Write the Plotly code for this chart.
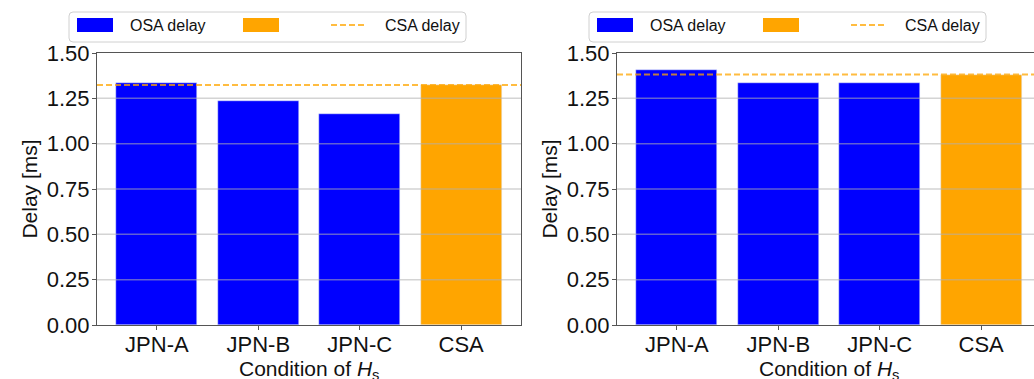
import plotly.graph_objects as go

# ---- data ----
categories = ["JPN-A", "JPN-B", "JPN-C", "CSA"]
delay_left = [1.333, 1.235, 1.162, 1.324]
delay_right = [1.406, 1.336, 1.336, 1.381]
csa_left = delay_left[3]
csa_right = delay_right[3]
y_ticks = [0.0, 0.25, 0.5, 0.75, 1.0, 1.25, 1.5]
y_tick_text = ["0.00", "0.25", "0.50", "0.75", "1.00", "1.25", "1.50"]
legend_labels = ["OSA delay", "", "CSA delay"]
x_title = "Condition of <i>H</i><sub>s</sub>"
y_title = "Delay [ms]"

# ---- style ----
W, H = 1034, 379
BLUE = "#0000ff"
ORANGE = "#ffa500"
FONT = "Liberation Sans"
AXCOL = "#555555"
bar_colors = [BLUE, BLUE, BLUE, ORANGE]


def px(x):
    return x / W


def py(y):
    return 1 - y / H


fig = go.Figure()

fig.add_trace(go.Bar(x=categories, y=delay_left, marker_color=bar_colors,
                     width=0.8, xaxis="x", yaxis="y", showlegend=False))
fig.add_trace(go.Bar(x=categories, y=delay_right, marker_color=bar_colors,
                     width=0.8, xaxis="x2", yaxis="y2", showlegend=False))

plot_top, plot_bot = 53, 325
left_x0, left_x1 = 97, 521
right_x0 = 617
left_range = [-0.59, 3.59]
span = left_range[1] - left_range[0]
right_range = [-0.59, -0.59 + span * (W - right_x0) / (left_x1 - left_x0)]

axis_common = dict(
    showline=True, linecolor=AXCOL, linewidth=1.2,
    ticks="outside", ticklen=4, tickwidth=1, tickcolor=AXCOL,
    tickfont=dict(family=FONT, size=22, color="#111"),
    showgrid=False, zeroline=False, automargin=False,
)
xaxis_extra = dict(ticklabelstandoff=-5)
yaxis_extra = dict(ticklabelstandoff=-2)

ydom = [py(plot_bot), py(plot_top)]
ytitle = dict(text=y_title, font=dict(family=FONT, size=21, color="#111"), standoff=3)

fig.update_layout(
    width=W, height=H,
    margin=dict(l=0, r=0, t=0, b=0, autoexpand=False),
    paper_bgcolor="white", plot_bgcolor="white",
    bargap=0,
    xaxis=dict(domain=[px(left_x0), px(left_x1)], range=left_range, mirror=True,
               anchor="y", **axis_common, **xaxis_extra),
    yaxis=dict(domain=ydom, range=[0, 1.5], tickvals=y_ticks, ticktext=y_tick_text,
               mirror=True, anchor="x", title=ytitle, **axis_common, **yaxis_extra),
    xaxis2=dict(domain=[px(right_x0), 1.0], range=right_range, mirror=True,
                anchor="y2", **axis_common, **xaxis_extra),
    yaxis2=dict(domain=ydom, range=[0, 1.5], tickvals=y_ticks, ticktext=y_tick_text,
                mirror=False, anchor="x2", title=ytitle, **axis_common, **yaxis_extra),
)

shapes = []
annotations = []

# horizontal grid lines drawn over the bars
for xr, yr in (("x domain", "y"), ("x2 domain", "y2")):
    for t in y_ticks[1:-1]:
        shapes.append(dict(type="line", xref=xr, yref=yr, x0=0, x1=1, y0=t, y1=t,
                           line=dict(color="rgba(176,176,176,0.55)", width=1.5),
                           layer="above"))

# CSA reference lines
for xr, yr, val in (("x domain", "y", csa_left), ("x2 domain", "y2", csa_right)):
    shapes.append(dict(type="line", xref=xr, yref=yr, x0=0, x1=1, y0=val, y1=val,
                       line=dict(color="rgba(255,165,0,0.75)", width=2, dash="6px,3px"),
                       layer="above"))

# x-axis titles under each panel
for xc in ((left_x0 + left_x1) / 2, (left_x0 + left_x1) / 2 + 520):
    annotations.append(dict(xref="paper", yref="paper", x=px(xc), y=py(355),
                            xanchor="center", yanchor="top", showarrow=False,
                            text=x_title, font=dict(family=FONT, size=21, color="#111")))

# legend boxes drawn above each panel
for off in (0, 520):
    bx0, bx1, by0, by1, r = 69 + off, 466 + off, 12, 42, 4
    path = (f"M {px(bx0 + r)},{py(by0)} L {px(bx1 - r)},{py(by0)} "
            f"Q {px(bx1)},{py(by0)} {px(bx1)},{py(by0 + r)} "
            f"L {px(bx1)},{py(by1 - r)} Q {px(bx1)},{py(by1)} {px(bx1 - r)},{py(by1)} "
            f"L {px(bx0 + r)},{py(by1)} Q {px(bx0)},{py(by1)} {px(bx0)},{py(by1 - r)} "
            f"L {px(bx0)},{py(by0 + r)} Q {px(bx0)},{py(by0)} {px(bx0 + r)},{py(by0)} Z")
    shapes.append(dict(type="path", xref="paper", yref="paper", path=path,
                       fillcolor="rgba(255,255,255,0.85)",
                       line=dict(color="#d0d0d0", width=1), layer="above"))
    # bar patches
    for x0, col in ((77, BLUE), (243, ORANGE)):
        shapes.append(dict(type="rect", xref="paper", yref="paper",
                           x0=px(x0 + off), x1=px(x0 + 36 + off), y0=py(32), y1=py(18),
                           fillcolor=col, line=dict(width=0), layer="above"))
    # dashed line sample
    shapes.append(dict(type="line", xref="paper", yref="paper",
                       x0=px(331 + off), x1=px(367 + off), y0=py(25), y1=py(25),
                       line=dict(color="rgba(255,165,0,0.75)", width=2, dash="6px,3px"),
                       layer="above"))
    for xt, label in ((128, legend_labels[0]), (294, legend_labels[1]), (383, legend_labels[2])):
        if not label:
            continue
        annotations.append(dict(xref="paper", yref="paper", x=px(xt + off), y=py(26),
                                xanchor="left", yanchor="middle", showarrow=False,
                                text=label, font=dict(family=FONT, size=16, color="#111")))

fig.update_layout(shapes=shapes, annotations=annotations)

fig.write_html("out.html")
